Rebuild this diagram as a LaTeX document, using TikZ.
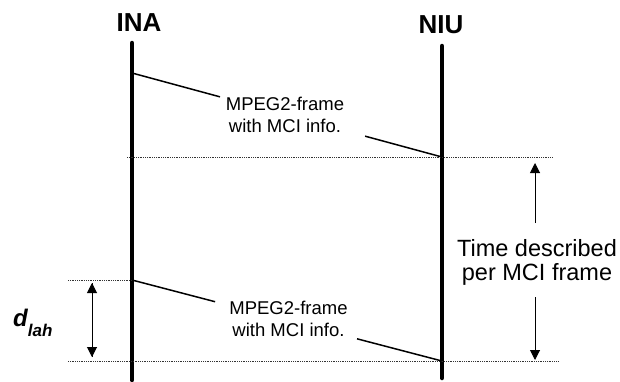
\documentclass[tikz,border=0pt]{standalone}
\usepackage{fontspec}
\setmainfont{Liberation Sans}
\usetikzlibrary{arrows.meta,calc}
\begin{document}
\begin{tikzpicture}[x=1pt,y=-1pt,
  lifeline/.style={line width=4.5pt, line cap=round},
  msgline/.style={line width=1.5pt},
  guide/.style={line width=1pt, black!80, dash pattern=on 1pt off 0.8pt},
  dimarrow/.style={line width=1pt, -{Triangle[length=10pt,width=10pt]}},
  msgtext/.style={align=center, font=\fontsize{18.5}{22}\selectfont, inner sep=0pt},
  titletext/.style={font=\bfseries\fontsize{26}{26}\selectfont, inner sep=0pt}]
\useasboundingbox (0,0) rectangle (620,381);

% titles
\node[titletext] (ina) at (139,23) {INA};
\node[titletext] (niu) at (441,25) {NIU};

% lifelines
\coordinate (inaTop) at (132,43);
\coordinate (inaBot) at (132,380);
\coordinate (niuTop) at (442,46);
\coordinate (niuBot) at (442,378);
\draw[lifeline] (inaTop) -- (inaBot);
\draw[lifeline] (niuTop) -- (niuBot);

% guide lines
\coordinate (g1a) at (127,157);
\coordinate (g1b) at (553,157);
\coordinate (g2a) at (68,280);
\coordinate (g2b) at (132,280);
\coordinate (g3a) at (68,361);
\coordinate (g3b) at (558,361);
\draw[guide] (g1a) -- (g1b);
\draw[guide] (g2a) -- (g2b);
\draw[guide] (g3a) -- (g3b);

% messages
\coordinate (m1a) at (132,73);
\coordinate (m1b) at (442,157);
\coordinate (m2a) at (132,280);
\coordinate (m2b) at (442,361);
\draw[msgline] (m1a) -- ($(m1a)!0.284!(m1b)$);
\draw[msgline] ($(m1a)!0.752!(m1b)$) -- (m1b);
\draw[msgline] (m2a) -- ($(m2a)!0.268!(m2b)$);
\draw[msgline] ($(m2a)!0.726!(m2b)$) -- (m2b);
\node[msgtext] (msg1) at (285,115.25) {MPEG2-frame\\with MCI info.};
\node[msgtext] (msg2) at (288.5,319) {MPEG2-frame\\with MCI info.};

% d_lah dimension
\coordinate (dl1) at (92,283);
\coordinate (dl2) at (92,357);
\draw[dimarrow] (dl2) -- (dl1);
\draw[dimarrow] (dl1) -- (dl2);
\node[anchor=base west, inner sep=0pt, font=\bfseries\itshape\fontsize{24}{24}\selectfont] (dlah) at (13,326)
  {d\raisebox{-10pt}{\fontsize{17}{17}\selectfont lah}};

% time per MCI frame
\node[align=center, inner sep=0pt, font=\fontsize{23.5}{24}\selectfont] (tdesc) at (537,262) {Time described\\per MCI frame};
\coordinate (r1) at (535,223);
\coordinate (rtop) at (535,163);
\coordinate (r2) at (535,297);
\coordinate (rbot) at (535,360);
\draw[dimarrow] (r1) -- (rtop);
\draw[dimarrow] (r2) -- (rbot);
\end{tikzpicture}
\end{document}
